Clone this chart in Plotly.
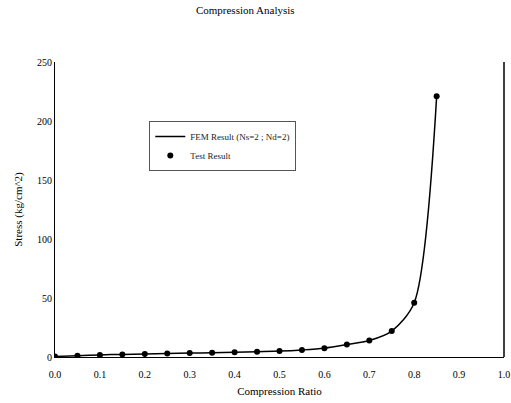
import plotly.graph_objects as go

ratio = [0.0, 0.05, 0.1, 0.15, 0.2, 0.25, 0.3, 0.35, 0.4, 0.45, 0.5, 0.55, 0.6, 0.65, 0.7, 0.75, 0.8, 0.85]
stress = [0.5, 1.0, 1.8, 2.2, 2.5, 3.0, 3.3, 3.5, 4.0, 4.5, 5.0, 6.0, 7.5, 10.5, 14.0, 22.0, 46.0, 221.0]
x_ticks = [0.0, 0.1, 0.2, 0.3, 0.4, 0.5, 0.6, 0.7, 0.8, 0.9, 1.0]
x_tick_labels = ["0.0", "0.1", "0.2", "0.3", "0.4", "0.5", "0.6", "0.7", "0.8", "0.9", "1.0"]
y_ticks = [0, 50, 100, 150, 200, 250]

font = "Liberation Serif, Times New Roman, serif"

fig = go.Figure()
fig.add_trace(go.Scatter(
    x=ratio, y=stress, mode="lines", name="FEM Result (Ns=2 ; Nd=2)",
    line=dict(color="black", width=1.5, shape="spline", smoothing=0.8),
))
fig.add_trace(go.Scatter(
    x=ratio, y=stress, mode="markers", name="Test Result",
    marker=dict(color="black", size=6),
))

fig.update_layout(
    width=511, height=403,
    margin=dict(l=55, r=7, t=62, b=46, autoexpand=False),
    paper_bgcolor="white", plot_bgcolor="white",
    font=dict(family=font, size=10, color="black"),
    title=dict(text="Compression Analysis", x=0.48, xanchor="center", y=0.985, yanchor="top",
               font=dict(family=font, size=11, color="black")),
    showlegend=True,
    legend=dict(x=0.21, y=0.80, xanchor="left", yanchor="top",
                bgcolor="white", bordercolor="#555", borderwidth=1,
                font=dict(family=font, size=9, color="#222"),
                itemwidth=30, tracegroupgap=10),
    xaxis=dict(range=[0, 1.0], tickvals=x_ticks, ticktext=x_tick_labels,
               showgrid=False, zeroline=False, showline=True, linecolor="black", linewidth=1,
               ticks="", ticklabelstandoff=8, ticklabeloverflow="allow", automargin=False,
               title=dict(text="Compression Ratio", standoff=8,
                          font=dict(family=font, size=11, color="black"))),
    yaxis=dict(range=[0, 250], tickvals=y_ticks, automargin=False,
               showgrid=False, zeroline=False, showline=True, linecolor="black", linewidth=1,
               ticks="", title=dict(text="Stress (kg/cm^2)", standoff=12,
                                    font=dict(family=font, size=11, color="black"))),
)
fig.add_shape(type="line", xref="paper", yref="paper", x0=1, x1=1, y0=0, y1=1,
              line=dict(color="black", width=1.5))

fig.write_html("out.html")
